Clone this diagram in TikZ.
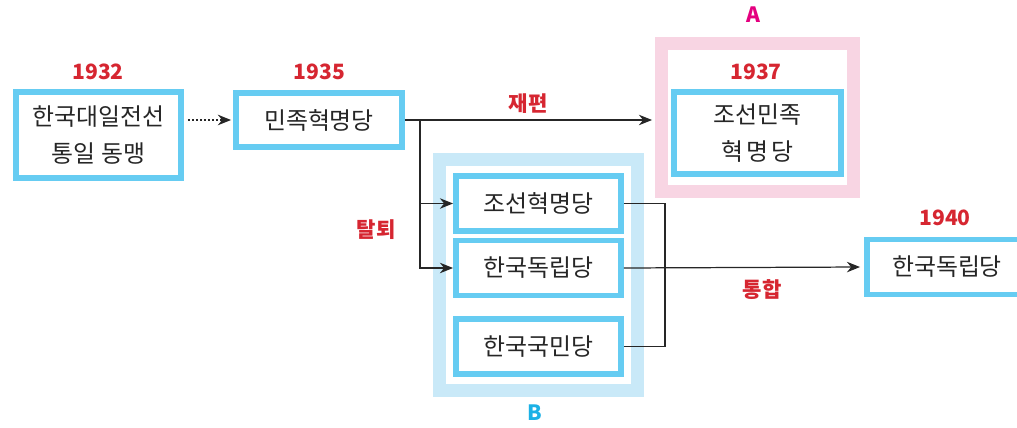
\documentclass[tikz,border=0pt]{standalone}
\usepackage{fontspec}
\setmainfont{Noto Sans CJK KR}
\usetikzlibrary{arrows.meta,fit,backgrounds}

\definecolor{boxblue}{HTML}{66CCF2}
\definecolor{paleblue}{HTML}{C9E9F8}
\definecolor{palepink}{HTML}{F8D5E3}
\definecolor{labelred}{HTML}{D62631}
\definecolor{amagenta}{HTML}{E4007F}
\definecolor{bcyan}{HTML}{1BB1E6}
\definecolor{ink}{HTML}{262626}

\tikzset{
  party/.style={draw=boxblue, line width=3.4pt, fill=white, text=ink,
    align=center, inner sep=0pt, minimum width=3.3cm, minimum height=1.1cm,
    font=\fontsize{13.6}{21}\selectfont},
  year/.style={text=labelred, font=\bfseries\fontsize{12}{12}\selectfont},
  event/.style={text=labelred, font=\bfseries\fontsize{12}{12}\selectfont},
  link/.style={ink, line width=0.7pt},
  arr/.style={link, -{Stealth[length=7.5pt, width=6pt]}},
  frame/.style={line width=7.4pt}
}

\begin{document}
\begin{tikzpicture}[x=0.02cm, y=-0.02cm]
  \useasboundingbox (0, 0) rectangle (1017, 428);

  % 1932
  \node [year] (y32) at (98, 72) {1932};
  \node [party, minimum height=1.72cm] (dong) at (98.5, 135)
    {한국대일전선\\통일 동맹};

  % 1935
  \node [year] (y35) at (319.5, 72) {1935};
  \node [party, minimum height=1.08cm, minimum width=3.32cm] (minhyuk)
    at (319, 120) {민족혁명당};
  \draw [ink, line width=1pt, dash pattern=on 1pt off 1.3pt,
    -{Stealth[length=7.5pt, width=6pt]}, shorten <=0.08cm, shorten >=0.04cm]
    (dong.east |- minhyuk.west) -- (minhyuk.west);

  % A
  \node [year] (y37) at (756, 72) {1937};
  \node [party, minimum height=1.64cm, minimum width=3.34cm] (josmin)
    at (757.5, 133) {조선민족\\혁\hspace{1.5pt}명\hspace{1.5pt}당};
  \coordinate (atop) at (757.5, 58);
  \begin{scope}[on background layer]
    \node [frame, draw=palepink, fit=(josmin)(atop), inner xsep=0.19cm,
      inner ysep=0.29cm] (framea) {};
  \end{scope}
  \node [text=amagenta, font=\bfseries\fontsize{12}{12}\selectfont] (la)
    at (753, 15) {A};

  % B
  \node [party] (johyuk) at (538.5, 203.5) {조선혁명당};
  \node [party] (hando) at (538.5, 268) {한국독립당};
  \node [party] (hanguk) at (538.5, 346.5) {한국국민당};
  \begin{scope}[on background layer]
    \node [frame, draw=paleblue, fit=(johyuk)(hanguk), inner sep=0.27cm]
      (frameb) {};
  \end{scope}
  \node [text=bcyan, font=\bfseries\fontsize{12}{12}\selectfont] (lb)
    at (535, 413) {B};

  % 1940
  \node [year] (y40) at (945, 218) {1940};
  \node [party, minimum width=3.2cm] (hando40) at (947, 267) {한국독립당};

  % connectors
  \draw [arr, shorten >=0.06cm] (minhyuk.east) -- (minhyuk.east -| framea.west);
  \coordinate (split) at ([xshift=0.3cm]minhyuk.east);
  \draw [arr] (split) |- (johyuk.west);
  \draw [arr] (split) |- (hando.west);
  \draw [link] (johyuk.east) -- ++(0.82cm, 0) |- (hanguk.east);
  \draw [arr, shorten >=0.08cm] (hando.east) -- (hando40.west);

  % labels
  \node [event] (jaepyeon) at (528, 104) {재편};
  \node [event] (taltoe) at (376, 230) {탈퇴};
  \node [event] (tonghap) at (762, 290) {통합};
\end{tikzpicture}
\end{document}
